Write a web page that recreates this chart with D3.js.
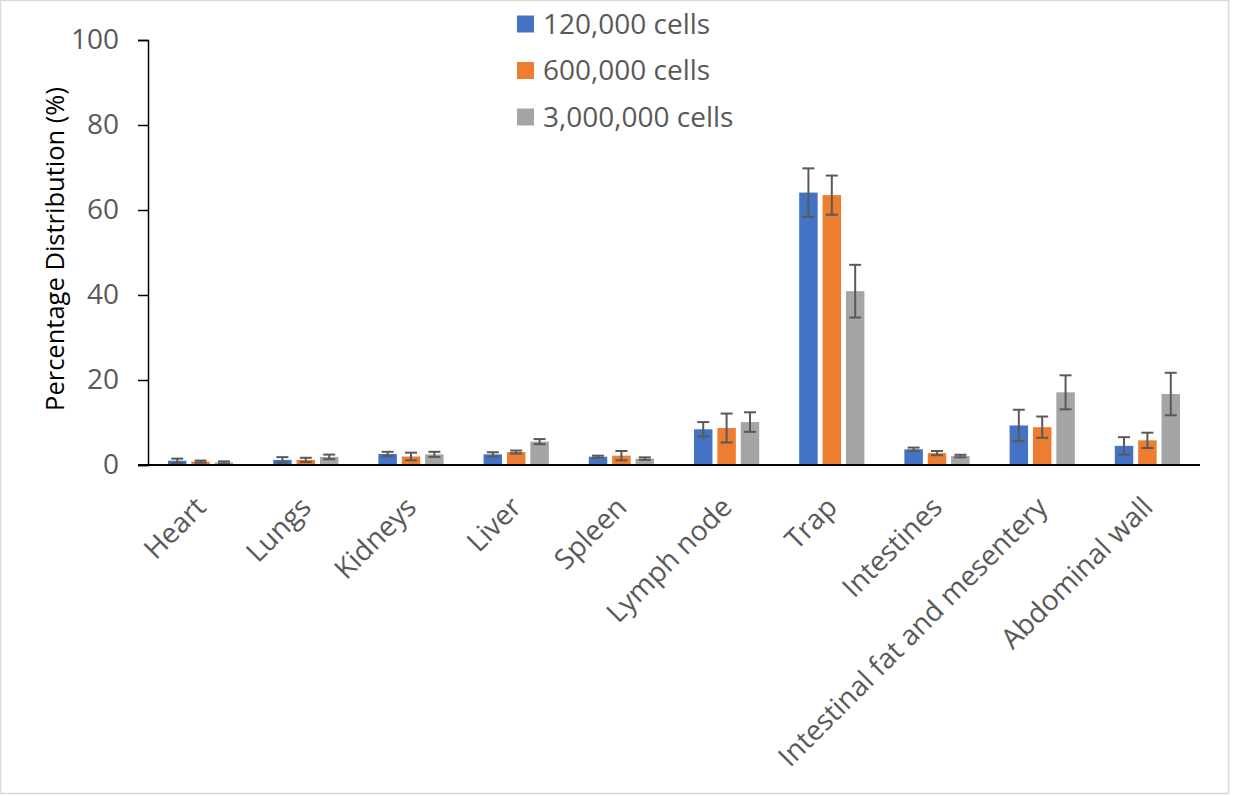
<!DOCTYPE html>
<html>
<head>
<meta charset="utf-8">
<script src="https://cdn.jsdelivr.net/npm/d3@7"></script>
<style>
  html, body { margin: 0; padding: 0; background: #fff; }
  svg { display: block; font-family: "Open Sans", "Noto Sans", sans-serif; }
</style>
</head>
<body>
<svg id="chart" width="1238" height="796"></svg>
<script>
// Tissue categories along the x axis
const categories = ["Heart", "Lungs", "Kidneys", "Liver", "Spleen", "Lymph node",
  "Trap", "Intestines", "Intestinal fat and mesentery", "Abdominal wall"];

// Series names (cell doses)
const seriesNames = ["120,000 cells", "600,000 cells", "3,000,000 cells"];
const seriesColors = ["#4472C4", "#ED7D31", "#A5A5A5"];

// Mean percentage distribution per series
const mean120k = [1.0, 1.2, 2.6, 2.5, 1.95, 8.4, 64.1, 3.7, 9.3, 4.5];
const mean600k = [0.8, 1.2, 2.0, 3.05, 2.2, 8.7, 63.5, 2.8, 8.9, 5.8];
const mean3m   = [0.6, 1.9, 2.5, 5.5, 1.5, 10.1, 40.9, 2.1, 17.1, 16.7];

// Error (± deviation) per series
const err120k = [0.5, 0.65, 0.5, 0.5, 0.25, 1.7, 5.7, 0.4, 3.7, 2.05];
const err600k = [0.25, 0.5, 0.9, 0.35, 1.1, 3.4, 4.6, 0.5, 2.5, 1.8];
const err3m   = [0.25, 0.55, 0.6, 0.6, 0.3, 2.3, 6.2, 0.3, 4.0, 5.0];

// Y-axis ticks
const yTicks = [0, 20, 40, 60, 80, 100];

const means = [mean120k, mean600k, mean3m];
const errs = [err120k, err600k, err3m];

const svg = d3.select("#chart");

// Outer chart frame
svg.append("rect")
  .attr("x", 0.5).attr("y", 0.5)
  .attr("width", 1228).attr("height", 793)
  .attr("fill", "#fff").attr("stroke", "#d9d9d9").attr("stroke-width", 1.5);

const plot = { left: 148, right: 1200, top: 40, bottom: 465 };

const x0 = d3.scaleBand().domain(categories).range([plot.left, plot.right])
  .paddingInner(0).paddingOuter(0);
const x1 = d3.scaleBand().domain(seriesNames).range([0, x0.bandwidth()])
  .paddingInner(0.21).paddingOuter(0.855);
const y = d3.scaleLinear().domain([0, 100]).range([plot.bottom, plot.top]);

// Rows of data for drawing
const rows = [];
categories.forEach((c, i) => {
  seriesNames.forEach((s, j) => {
    rows.push({ cat: c, series: s, color: seriesColors[j], v: means[j][i], e: errs[j][i] });
  });
});

// Bars
svg.append("g").selectAll("rect").data(rows).join("rect")
  .attr("x", d => x0(d.cat) + x1(d.series))
  .attr("y", d => y(d.v))
  .attr("width", x1.bandwidth())
  .attr("height", d => y(0) - y(d.v))
  .attr("fill", d => d.color);

// Error bars
const capW = 6;
const eg = svg.append("g").attr("stroke", "#595959").attr("stroke-width", 2).attr("fill", "none");
rows.forEach(d => {
  const cx = x0(d.cat) + x1(d.series) + x1.bandwidth() / 2;
  const yt = y(d.v + d.e), yb = y(Math.max(0, d.v - d.e));
  eg.append("line").attr("x1", cx).attr("x2", cx).attr("y1", yt).attr("y2", yb);
  eg.append("line").attr("x1", cx - capW).attr("x2", cx + capW).attr("y1", yt).attr("y2", yt);
  eg.append("line").attr("x1", cx - capW).attr("x2", cx + capW).attr("y1", yb).attr("y2", yb);
});

// Y axis
const yAxis = d3.axisLeft(y).tickValues(yTicks).tickSize(10).tickPadding(19);
const yg = svg.append("g").attr("transform", `translate(${plot.left},0)`).call(yAxis);
yg.select(".domain").attr("stroke", "#000").attr("stroke-width", 1.5);
yg.selectAll(".tick line").attr("stroke", "#000").attr("stroke-width", 1.5);
yg.selectAll(".tick text").attr("fill", "#595959")
  .style("font-size", "28px").style("font-family", "'Open Sans', sans-serif");

// X axis
const xAxis = d3.axisBottom(x0).tickSize(0).tickPadding(0);
const xg = svg.append("g").attr("transform", `translate(0,${plot.bottom})`).call(xAxis);
xg.select(".domain").attr("stroke", "#000").attr("stroke-width", 2)
  .attr("d", `M${plot.left - 10},0H${plot.right}`);
xg.selectAll(".tick text")
  .attr("fill", "#595959")
  .style("font-size", "28px").style("font-family", "'Open Sans', sans-serif")
  .attr("text-anchor", "end")
  .attr("dy", 0).attr("y", 0)
  .attr("transform", "translate(7,44) rotate(-45)");

// Y axis title
svg.append("text")
  .attr("transform", "translate(64,249) rotate(-90)")
  .attr("text-anchor", "middle")
  .attr("fill", "#000")
  .style("font-size", "25.5px")
  .text("Percentage Distribution (%)");

// Legend
const lg = svg.append("g");
seriesNames.forEach((s, j) => {
  const cy = 24 + j * 46.5;
  lg.append("rect").attr("x", 517).attr("y", cy - 8.5).attr("width", 17).attr("height", 17)
    .attr("fill", seriesColors[j]);
  lg.append("text").attr("x", 543).attr("y", cy).attr("dy", "0.35em")
    .attr("fill", "#595959").style("font-size", "28px").text(s);
});
</script>
</body>
</html>
